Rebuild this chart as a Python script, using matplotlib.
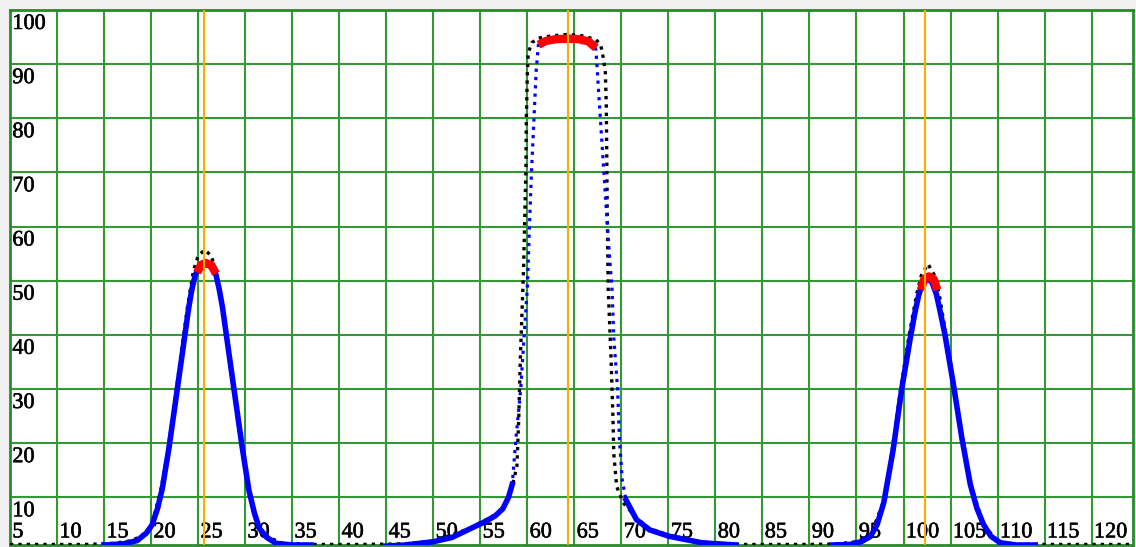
import numpy as np
import matplotlib.pyplot as plt
import matplotlib.patheffects as pe

# measured points (black), whole range
black_x = [5.0, 7.0, 10.0, 13.0, 16.0, 18.0, 19.5, 20.1, 21.0, 21.8, 22.5, 23.2, 23.9, 24.5,
           25.0, 25.7, 26.4, 26.9, 27.5, 28.2, 28.9, 29.6, 30.3, 31.0, 31.6, 32.5, 34.0, 37.0,
           42.0, 47.0, 50.0, 53.8, 56.6, 57.6, 58.4, 58.9, 59.1, 59.25, 59.4, 59.6, 59.85, 59.9,
           60.0, 60.1, 60.5, 61.2, 62.5, 64.3, 66.0, 67.3, 67.8, 68.1, 68.3, 68.4, 68.45, 68.5,
           68.6, 68.9, 69.1, 69.2, 69.5, 70.2, 71.6, 73.0, 75.1, 78.6, 82.0, 86.0, 90.0, 93.0,
           95.0, 96.5, 97.9, 98.8, 99.7, 100.6, 101.4, 101.9, 102.6, 103.3, 103.8, 104.5, 105.4,
           106.3, 107.2, 108.5, 110.0, 112.0, 116.0, 120.0, 124.4]
black_y = [1.3, 1.3, 1.3, 1.3, 1.5, 2.0, 3.5, 5.2, 11.0, 18.8, 27.5, 36.5, 45.5, 51.8,
           54.6, 55.7, 54.6, 51.8, 46.0, 37.0, 28.0, 19.5, 11.8, 7.0, 4.2, 2.6, 1.5, 1.3,
           1.3, 1.4, 1.9, 4.2, 6.8, 8.3, 12.0, 15.8, 25.0, 35.0, 42.4, 52.0, 70.3, 79.6,
           88.0, 92.1, 94.0, 94.8, 95.2, 95.5, 95.2, 94.5, 93.6, 91.0, 88.4, 82.3, 73.0, 63.0,
           48.6, 36.0, 25.0, 18.0, 12.0, 9.0, 6.2, 4.2, 3.0, 1.7, 1.3, 1.3, 1.3, 1.4,
           1.8, 3.0, 9.3, 18.8, 30.0, 40.0, 47.5, 51.0, 53.1, 51.0, 47.5, 40.0, 30.5,
           20.5, 12.0, 5.0, 1.8, 1.3, 1.3, 1.3, 1.3]

# fitted curves (blue)
left_x = [15.0, 17.0, 18.5, 19.5, 20.1, 20.7, 21.2, 21.9, 22.6, 23.3, 24.0, 24.35, 24.7, 25.2,
          25.8, 26.4, 26.9, 27.25, 27.6, 28.3, 29.0, 29.7, 30.4, 31.0, 31.5, 32.3, 33.3, 35.0,
          37.0]
left_y = [1.2, 1.4, 2.0, 3.4, 4.9, 8.0, 11.7, 19.1, 27.7, 36.3, 45.0, 48.5, 51.1, 52.6,
          53.0, 52.6, 51.1, 48.4, 45.0, 36.3, 27.7, 19.1, 11.3, 7.0, 4.3, 2.6, 1.5, 1.2,
          1.2]

mid_x = [45.0, 47.0, 50.0, 52.0, 53.8, 55.5, 56.6, 57.4, 58.0, 58.4, 58.8, 59.3, 59.65, 60.0,
         60.25, 60.45, 60.7, 60.95, 61.2, 62.5, 64.3, 66.0, 67.0, 67.3, 67.55, 67.9, 68.25,
         68.6, 69.0, 69.2, 69.6, 69.8, 70.1, 70.5, 71.6, 73.0, 75.1, 78.6, 82.2]
mid_y = [1.0, 1.2, 1.8, 2.6, 4.1, 5.5, 6.6, 7.9, 10.0, 12.4, 21.0, 30.0, 39.5, 48.6,
         61.0, 70.3, 79.6, 88.9, 94.0, 94.8, 95.2, 94.8, 94.0, 92.6, 85.8, 76.5, 67.2,
         57.9, 48.6, 39.4, 30.0, 20.6, 13.1, 9.5, 5.9, 4.0, 2.8, 1.6, 1.2]

right_x = [92.5, 94.3, 95.5, 96.5, 97.2, 97.9, 98.9, 99.8, 100.7, 101.2, 101.6, 102.0, 102.5,
           103.0, 103.5, 103.9, 104.4, 105.3, 106.2, 107.1, 107.8, 108.5, 109.3, 110.3, 112.0,
           114.0]
right_y = [1.2, 1.3, 1.8, 2.8, 5.0, 9.0, 18.8, 29.9, 39.2, 44.0, 47.2, 49.5, 50.3,
           49.8, 47.5, 44.3, 40.1, 30.9, 21.0, 12.4, 8.0, 5.0, 2.8, 1.6, 1.2,
           1.2]

# points near the peak tops (red)
red_left_x = [24.9, 25.3, 25.8, 26.4, 26.9]
red_left_y = [51.5, 52.9, 53.3, 52.9, 51.3]
red_mid_x = [61.2, 62.0, 63.0, 64.3, 65.5, 66.5, 67.3]
red_mid_y = [93.6, 94.3, 94.6, 94.7, 94.6, 94.2, 93.0]
red_right_x = [101.85, 102.2, 102.7, 103.2, 103.6]
red_right_y = [48.3, 50.3, 50.8, 50.3, 48.3]

# peak markers (orange)
peak_pos = [25.6, 64.3, 102.3]

x_labels = list(range(5, 121, 5))
y_labels = list(range(10, 101, 10))

green = '#339933'
fig = plt.figure(figsize=(11.36, 5.47), dpi=100, facecolor='#f0f0f0')
ax = fig.add_axes([10 / 1136, 2 / 547, 1123 / 1136, 535 / 547])
ax.set_facecolor('white')
ax.set_xlim(5, 124.4)
ax.set_ylim(1.2, 100)
ax.set_xticks([])
ax.set_yticks([])
for s in ax.spines.values():
    s.set_color('#2a8a2a')
    s.set_linewidth(2)

for v in x_labels[1:]:
    ax.axvline(v, color=green, lw=1.5, zorder=1)
for v in y_labels[:-1]:
    ax.axhline(v, color=green, lw=1.5, zorder=1)

# labels sit inside the grid cells, a bit heavier like the original rendering
font = dict(family='Liberation Serif', fontsize=16, color='black', zorder=2,
            path_effects=[pe.withStroke(linewidth=0.4, foreground='black')])
for v in x_labels:
    ax.text(v + 0.25, 2.6, str(v), ha='left', va='baseline', **font)
for v in y_labels:
    ax.text(5.25, v - 3.5, str(v), ha='left', va='baseline', **font)

ax.plot(black_x, black_y, color='black', lw=2.4, linestyle=(0, (1, 1.5)),
        dash_capstyle='butt', zorder=3)

ax.plot(left_x, left_y, color='blue', lw=4, zorder=4)
ax.plot(right_x, right_y, color='blue', lw=4, zorder=4)
ax.plot(mid_x, mid_y, color='blue', lw=2.3, linestyle=(0, (1, 1.6)),
        dash_capstyle='butt', zorder=4)
ax.plot(mid_x, np.ma.masked_greater(mid_y, 13), color='blue', lw=4, zorder=4)

for rx, ry in [(red_left_x, red_left_y), (red_mid_x, red_mid_y), (red_right_x, red_right_y)]:
    ax.plot(rx, ry, color='red', lw=6, solid_capstyle='butt', zorder=5)

for p in peak_pos:
    ax.axvline(p, color='#ffaa00', lw=1.5, zorder=6)

fig.savefig('out.png', dpi=100, facecolor=fig.get_facecolor())
